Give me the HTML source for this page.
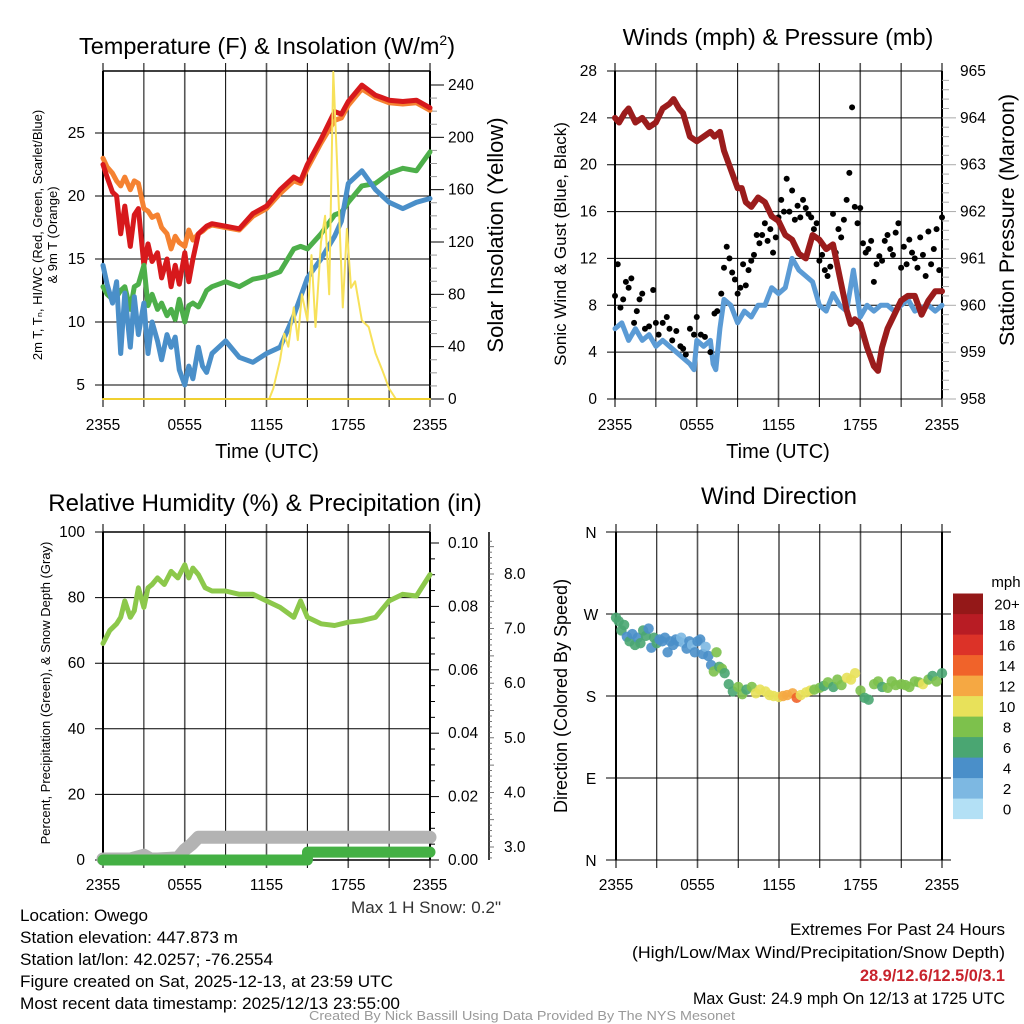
<!DOCTYPE html>
<html><head><meta charset="utf-8">
<style>
html,body{margin:0;padding:0;background:#fff;}
svg{display:block;font-family:"Liberation Sans",sans-serif;}
</style></head>
<body>
<svg id="fig" width="1024" height="1024" viewBox="0 0 1024 1024" xmlns="http://www.w3.org/2000/svg">
<g id="p1"></g>
<g id="p2"></g>
<g id="p3"></g>
<g id="p4"></g>
<g id="txt" font-size="17">
<text x="20" y="921" textLength="128" lengthAdjust="spacingAndGlyphs">Location: Owego</text>
<text x="20" y="943" textLength="218" lengthAdjust="spacingAndGlyphs">Station elevation: 447.873 m</text>
<text x="20" y="965" textLength="253" lengthAdjust="spacingAndGlyphs">Station lat/lon: 42.0257; -76.2554</text>
<text x="20" y="987" textLength="373" lengthAdjust="spacingAndGlyphs">Figure created on Sat, 2025-12-13, at 23:59 UTC</text>
<text x="20" y="1009" textLength="380" lengthAdjust="spacingAndGlyphs">Most recent data timestamp: 2025/12/13 23:55:00</text>
<text x="1005" y="935" text-anchor="end" textLength="215" lengthAdjust="spacingAndGlyphs">Extremes For Past 24 Hours</text>
<text x="1005" y="958" text-anchor="end" textLength="373" lengthAdjust="spacingAndGlyphs">(High/Low/Max Wind/Precipitation/Snow Depth)</text>
<text x="1005" y="981" text-anchor="end" fill="#c8232c" font-weight="bold" textLength="145" lengthAdjust="spacingAndGlyphs">28.9/12.6/12.5/0/3.1</text>
<text x="1005" y="1004" text-anchor="end" textLength="312" lengthAdjust="spacingAndGlyphs">Max Gust: 24.9 mph On 12/13 at 1725 UTC</text>
<text x="501" y="913" text-anchor="end" fill="#333" textLength="150" lengthAdjust="spacingAndGlyphs">Max 1 H Snow: 0.2"</text>
<text x="309" y="1020" fill="#999" font-size="13" textLength="426" lengthAdjust="spacingAndGlyphs">Created By Nick Bassill Using Data Provided By The NYS Mesonet</text>
</g>
</svg>
<script>
// ---------- data ----------
const tempHours=[0,0.3,0.7,1,1.3,1.6,2,2.3,2.6,3,3.3,3.6,4,4.3,4.7,5,5.3,5.6,6,6.3,6.6,7,7.3,7.6,8,9,10,11,12,13,14,14.5,15,16,17,17.5,18,19,20,21,22,23,24];
const tempRed=[22.5,21.5,20.3,20,17,19.2,16,18.5,19,14.5,16.2,14.8,15.5,13.5,15,12.8,14.5,13,15.5,13.2,15,17,17.3,17.6,17.8,17.6,17.4,18.6,19.2,20.5,21.5,21.2,22.5,24.5,26.7,26.5,27.5,28.8,28,27.6,27.5,27.6,27];
const tempOrange=[23,22.3,21.8,21.2,20.8,21.5,20.5,21.2,21,19,18.8,18.3,18.5,17.5,17,15.8,16.8,16.3,16,17.3,16.5,17,17.2,17.5,17.7,17.5,17.3,18.4,19,20.2,21.2,21,22.2,24.2,26,26.2,27.2,28.5,27.8,27.4,27.3,27.4,26.8];
const tempGreen=[12.8,12.2,11.8,12,12.5,12.8,11,12.8,13,14.5,11.3,12.2,11,11.5,10.5,11,10.2,11.8,10,11.3,11.5,11.2,11.8,12.5,12.8,13.2,12.8,13.4,13.6,14,15.8,16,15.8,17,18.5,18.7,19.5,20.8,21,21.8,22.2,22,23.5];
const tempBlue=[14.5,13,11.5,13.2,7.5,12.3,8,12,9,11.5,7.5,10,8.5,7,9,8,8.8,6.2,5,6.5,5.5,8,6.5,6,7.5,8.5,7.2,6.8,7.5,8,10.5,12,13.5,15,16.8,18,21,22,20.5,19.5,19,19.5,19.8];
const solarHours=[0,12.2,12.5,13,13.3,13.6,14,14.3,14.6,15,15.3,15.6,16,16.3,16.6,16.9,17.1,17.3,17.6,17.9,18.2,18.5,19,19.5,20,20.5,21,21.5,24];
const solarVals=[0,0,8,30,50,40,70,45,80,60,110,55,120,140,80,250,200,150,70,130,85,90,60,55,35,22,8,0,0];
const windHours=[0,0.5,1,1.5,2,2.5,3,3.5,4,4.5,5,5.5,5.8,6,6.5,7,7.2,7.4,7.7,8,8.5,9,9.5,10,10.5,11,11.5,12,12.5,13,13.5,14,14.5,15,15.5,16,16.5,17,17.5,18,18.5,19,19.5,20,20.5,21,21.5,22,22.5,23,23.5,24];
const windVals=[6,6.5,5,6,5,5.5,4.5,5,4.5,4,3.5,3,2.5,5,4.5,5,3,2.5,6,8.5,8,6.5,7.5,7,8,8,9.5,9,9.5,12,11,10.5,10,8,7.5,9,8,7.5,11,7,8,7.5,8,8,7.5,8,8.5,7.5,7.8,8,7.5,8,6.5];
const gustHours=[0,0.2,0.4,0.6,0.8,1,1.2,1.4,1.6,1.8,2,2.2,2.5,2.8,3,3.2,3.5,3.8,4,4.2,4.5,4.8,5,5.2,5.5,5.8,6,6.3,6.6,7,7.3,7.5,7.8,8,8.2,8.4,8.6,8.8,9,9.2,9.4,9.6,9.8,10,10.2,10.4,10.6,10.8,11,11.2,11.4,11.6,11.8,12,12.2,12.4,12.6,12.8,13,13.2,13.4,13.6,13.8,14,14.2,14.4,14.6,14.8,15,15.2,15.4,15.6,15.8,16,16.2,16.4,16.6,16.8,17,17.2,17.4,17.6,17.8,18,18.2,18.4,18.6,18.8,19,19.2,19.4,19.6,19.8,20,20.2,20.4,20.6,20.8,21,21.2,21.4,21.6,21.8,22,22.2,22.4,22.6,22.8,23,23.2,23.4,23.6,23.8,24];
const gustVals=[8.8,11.5,7.8,8.5,10,9.5,10.3,6.5,7.5,8.5,9,6,6.2,9.3,6.5,5.5,6.5,7,6,5,5.8,4.5,4.3,3.8,6,5.5,7,5.5,5.3,4,7.3,7.5,9,11.2,13,12,10.8,10.2,9,9.5,11.5,9.7,11,11.8,12.3,14,13.3,14,15,13.5,14.5,12.5,13.8,15.5,17,16,18.8,16,17.8,15.3,16.5,15.5,17,16.3,15.8,15.5,14.5,15,11.8,12.3,11,10.5,11.3,15.8,12.5,14.5,13.8,15.3,17,19.3,24.9,16.4,15,16.3,13.3,12.5,12.8,13.5,10,11.5,12.2,11.8,13.5,14,12.8,12.3,14.2,15,11.2,13,11.5,13.6,12.5,12,11.2,13.8,12.3,10.5,14.3,11.5,12.8,14.5,11,15.5,11.2];
const presHours=[0,0.3,0.7,1,1.5,2,2.5,3,3.5,4,4.3,4.7,5,5.5,6,6.5,7,7.3,7.7,8,8.5,9,9.3,9.6,10,10.5,11,11.5,12,12.5,13,13.5,14,14.5,15,15.5,16,16.5,17,17.3,17.6,18,18.5,19,19.3,19.6,20,20.5,21,21.5,22,22.5,23,23.5,24];
const presVals=[964,963.9,964.1,964.2,963.9,964,963.8,963.9,964.2,964.3,964.4,964.2,964.1,963.6,963.5,963.6,963.7,963.6,963.7,963.3,962.9,962.5,962.5,962.2,962.1,962.3,962.2,961.9,961.8,961.5,961.4,961.1,961,961.5,961.4,961.2,961.3,960.6,959.9,959.6,959.7,959.6,959.1,958.7,958.6,959.1,959.5,959.8,960.1,960.2,960.2,959.8,960.1,960.3,960.3];
const rhHours=[0,0.5,1,1.3,1.6,2,2.3,2.6,3,3.3,3.6,4,4.5,5,5.5,6,6.3,6.6,7,7.5,8,9,10,11,12,13,14,14.5,15,16,17,18,19,20,21,22,23,24];
const rhVals=[66,70,72,74,79,74,76,83,77,83,84,86,84,88,86,90,86,89,87,83,82,82,81,81,79,77,74,79,74,72,71.5,72.5,73,74,79,81,80.5,87];
const precipHours=[0,15,15.01,24];
const precipVals=[0,0,0.0025,0.0025];
const snowHours=[0,2,3,3.5,4,5.5,6,6.5,7,24];
const snowVals=[2.78,2.78,2.85,2.78,2.78,2.8,2.95,3.05,3.18,3.18];
const dirHours=[0,0.2,0.4,0.6,0.8,1,1.2,1.4,1.6,1.8,2,2.2,2.4,2.6,2.8,3,3.2,3.4,3.6,3.8,4,4.2,4.4,4.6,4.8,5,5.2,5.4,5.6,5.8,6,6.2,6.4,6.6,6.8,7,7.2,7.4,7.6,7.8,8,8.3,8.6,9,9.3,9.6,10,10.3,10.6,11,11.3,11.6,12,12.3,12.6,13,13.3,13.6,14,14.3,14.6,15,15.3,15.6,16,16.3,16.6,17,17.3,17.6,18,18.3,18.6,19,19.3,19.6,20,20.3,20.6,21,21.3,21.6,22,22.3,22.6,23,23.3,23.6,24];
const dirDeg=[266,262,252,258,245,240,248,236,244,238,252,246,254,233,244,238,242,240,244,228,240,236,242,240,244,238,232,240,236,228,240,242,226,234,224,214,207,228,212,210,205,193,185,190,182,187,190,183,187,185,181,180,179,180,181,183,178,181,184,186,187,189,191,195,190,198,192,200,198,205,186,178,176,193,196,190,189,196,192,193,192,190,196,195,193,198,202,196,205];
const dirSpeed=[6,5,6,6,4,6,4,6,4,5,5,6,4,4,5,5,4,4,4,4,4,3,4,4,2,2,4,4,2,4,4,4,4,2,4,4,7,7,6,8,6,6,6,8,8,6,8,10,10,10,10,9,10,11,12,12,13,10,10,10,8,7,6,8,6,7,8,10,10,10,7,6,6,8,8,6,8,8,8,7,8,7,8,8,10,7,6,7,6];

// ---------- helpers ----------
const NS='http://www.w3.org/2000/svg';
function mk(parent,tag,attrs,txt){const e=document.createElementNS(NS,tag);for(const k in attrs)e.setAttribute(k,attrs[k]);if(txt!==undefined)e.textContent=txt;parent.appendChild(e);return e;}
function lin(d0,d1,r0,r1){return v=>r0+(v-d0)*(r1-r0)/(d1-d0);}
function pathD(xs,ys,fx,fy){return xs.map((h,i)=>(i?'L':'M')+fx(h).toFixed(1)+','+fy(ys[i]).toFixed(1)).join('');}
const timeLabels=['2355','0555','1155','1755','2355'];
const X0=103,X1=430,X0b=615,X1b=942;

function frame(g,x0,x1,y0,y1,hGrid,fy){
  const fx=lin(0,24,x0,x1);
  for(let h=0;h<=24;h+=3){
    const l=mk(g,'line',{x1:fx(h),x2:fx(h),y1:y0-8,y2:y1+8,stroke:h%6?'#000':'#555','stroke-width':h%6?1:1.6});
    
    
  }
  hGrid.forEach(v=>{
    const l=mk(g,'line',{x1:x0-8,x2:x1,y1:fy(v),y2:fy(v),stroke:'#000','stroke-width':1});
    
    
  });
  mk(g,'line',{x1:x0,x2:x0,y1:y0,y2:y1,stroke:'#000','stroke-width':2});
  mk(g,'line',{x1:x1,x2:x1,y1:y0,y2:y1,stroke:'#000','stroke-width':2});
  return fx;
}
function xLabels(g,fx,y){
  timeLabels.forEach((t,i)=>{
    const e=mk(g,'text',{x:fx(i*6),y:y,'text-anchor':'middle','font-size':15.5},t);
    
    
  });
}
function line(g,xs,ys,fx,fy,color,w,name){
  const e=mk(g,'path',{d:pathD(xs,ys,fx,fy),fill:'none',stroke:color,'stroke-width':w,'stroke-linejoin':'round','stroke-linecap':'round'});
  
  
  return e;
}
function rotText(g,x,y,s,fs,name){
  const e=mk(g,'text',{x:0,y:0,transform:`translate(${x},${y}) rotate(-90)`,'text-anchor':'middle','font-size':fs},s);
  
  
  return e;
}

// ---------- Panel 1 ----------
(function(){
  const g=document.getElementById('p1');
  const fy=lin(5,25,385,133), fs=lin(0,240,399,85);
  const fx=frame(g,X0,X1,71,399,[5,10,15,20,25],fy);
  mk(g,'line',{x1:X0,x2:X1,y1:71,y2:71,stroke:'#000','stroke-width':1.5});
  mk(g,'line',{x1:X0,x2:X1,y1:399,y2:399,stroke:'#000','stroke-width':1});
  for(let v=0;v<=240;v+=10){mk(g,'line',{x1:X1,x2:X1+(v%40?7:14),y1:fs(v),y2:fs(v),stroke:v%40?'#999':'#000','stroke-width':1});}
  [0,40,80,120,160,200,240].forEach(v=>{const e=mk(g,'text',{x:448,y:fs(v)+5,'font-size':15.5},v);});
  [5,10,15,20,25].forEach(v=>{const e=mk(g,'text',{x:85,y:fy(v)+5,'font-size':15.5,'text-anchor':'end'},v);});
  line(g,tempHours,tempOrange,fx,fy,'#f58231',5,'orange-9m-temp-line');
  line(g,tempHours,tempRed,fx,fy,'#d7191c',5,'red-2m-temp-line');
  line(g,tempHours,tempGreen,fx,fy,'#4daf4a',5,'green-line');
  line(g,tempHours,tempBlue,fx,fy,'#4a8fc9',5,'blue-dewpoint-line');
  line(g,solarHours,solarVals,fx,fs,'#f7e15a',2,'solar-insolation-line');
  mk(g,'line',{x1:X0,x2:X1,y1:399,y2:399,stroke:'#f0d030','stroke-width':2});
  xLabels(g,fx,430);
  const t=mk(g,'text',{x:267,y:54,'text-anchor':'middle','font-size':23.5},'Temperature (F) & Insolation (W/m');
  mk(t,'tspan',{dy:-9,'font-size':14},'2');mk(t,'tspan',{dy:9},')');
  
  
  const xl=mk(g,'text',{x:267,y:458,'text-anchor':'middle','font-size':20},'Time (UTC)');
  
  
  rotText(g,42,235,'2m T, T\u2099, HI/WC (Red, Green, Scarlet/Blue)',13,'left-axis-title-1');
  rotText(g,57,235,'& 9m T (Orange)',13,'left-axis-title-2');
  rotText(g,503,235,'Solar Insolation (Yellow)',22,'right-axis-title');
})();

// ---------- Panel 2 ----------
(function(){
  const g=document.getElementById('p2');
  const fy=lin(0,28,399,71), fp=lin(958,965,399,71);
  const fx=frame(g,X0b,X1b,71,399,[0,4,8,12,16,20,24,28],fy);
  for(let v=958;v<=965;v+=0.2){mk(g,'line',{x1:X1b,x2:X1b+(Math.abs(v-Math.round(v))<0.01?14:7),y1:fp(v),y2:fp(v),stroke:'#aaa','stroke-width':1});}
  [958,959,960,961,962,963,964,965].forEach(v=>{const e=mk(g,'text',{x:960,y:fp(v)+5,'font-size':15.5},v);});
  [0,4,8,12,16,20,24,28].forEach(v=>{const e=mk(g,'text',{x:597,y:fy(v)+5,'font-size':15.5,'text-anchor':'end'},v);});
  line(g,windHours,windVals,fx,fy,'#5b9bd5',5,'sonic-wind-line');
  gustHours.forEach((h,i)=>{
    const c=mk(g,'circle',{cx:fx(h),cy:fy(gustVals[i]),r:3,fill:'#000'});
    
    
  });
  line(g,presHours,presVals,fx,fp,'#9b1c1c',6,'pressure-line');
  xLabels(g,fx,430);
  const t=mk(g,'text',{x:778,y:45,'text-anchor':'middle','font-size':23.5},'Winds (mph) & Pressure (mb)');
  
  
  const xl=mk(g,'text',{x:778,y:458,'text-anchor':'middle','font-size':20},'Time (UTC)');
  
  
  rotText(g,566,244,'Sonic Wind & Gust (Blue, Black)',17,'left-axis-title');
  rotText(g,1014,220,'Station Pressure (Maroon)',21.5,'right-axis-title');
})();

// ---------- Panel 3 ----------
(function(){
  const g=document.getElementById('p3');
  const fy=lin(0,100,860,532), fp=lin(0,0.1,860,543), fsn=lin(3,8,847,574);
  const fx=frame(g,X0,X1,532,860,[0,20,40,60,80,100],fy);
  for(let v=0;v<=0.1001;v+=0.005){mk(g,'line',{x1:X1,x2:X1+(Math.round(v*1000)%20?5:9),y1:fp(v),y2:fp(v),stroke:'#000','stroke-width':1});}
  ['0.00','0.02','0.04','0.06','0.08','0.10'].forEach(s=>{const e=mk(g,'text',{x:448,y:fp(+s)+5,'font-size':15.5},s);});
  mk(g,'line',{x1:489,x2:489,y1:532,y2:860,stroke:'#000','stroke-width':1.5});
  for(let v=2.8;v<=8.6;v+=0.1){mk(g,'line',{x1:489,x2:489+(Math.abs(v*2-Math.round(v*2))<0.01?5:3),y1:fsn(v),y2:fsn(v),stroke:'#555','stroke-width':0.8});}
  ['3.0','4.0','5.0','6.0','7.0','8.0'].forEach(s=>{const e=mk(g,'text',{x:504,y:fsn(+s)+5,'font-size':15.5},s);});
  [0,20,40,60,80,100].forEach(v=>{const e=mk(g,'text',{x:85,y:fy(v)+5,'font-size':15.5,'text-anchor':'end'},v);});
  mk(g,'line',{x1:X0,x2:X1,y1:532,y2:532,stroke:'#000','stroke-width':1.5});
  mk(g,'line',{x1:X0,x2:X1,y1:860,y2:860,stroke:'#000','stroke-width':1.5});
  line(g,snowHours,snowVals,fx,fsn,'#b3b3b3',13,'snow-depth-line');
  line(g,precipHours,precipVals,fx,fp,'#44b044',11,'precipitation-line');
  line(g,rhHours,rhVals,fx,fy,'#8cc84b',5,'relative-humidity-line');
  xLabels(g,fx,890);
  const t=mk(g,'text',{x:265,y:511,'text-anchor':'middle','font-size':24},'Relative Humidity (%) & Precipitation (in)');
  
  
  rotText(g,50,693,'Percent, Precipitation (Green), & Snow Depth (Gray)',13,'left-axis-title');
})();

// ---------- Panel 4 ----------
(function(){
  const g=document.getElementById('p4');
  const fy=lin(0,360,860,532);
  const fx=frame(g,616,942,532,860,[0,90,180,270,360],fy);
  [['N',0],['E',90],['S',180],['W',270],['N',360]].forEach(([s,v])=>{const e=mk(g,'text',{x:591,y:fy(v)+6,'font-size':15.5,'text-anchor':'middle'},s);});
  for(const el of g.querySelectorAll('line')){if(el.getAttribute('y1')===el.getAttribute('y2')){el.setAttribute('x1',606);el.setAttribute('x2',951);}}
  const colors=['#b3e0f5','#7db8e2','#4a8fc9','#4aa672','#7dc14c','#e8e15a','#f5a843','#f0632a','#dc3228','#b81c24','#941818'];
  function col(s){return colors[Math.min(10,Math.round(s/2))];}
  dirHours.forEach((h,i)=>{
    const c=mk(g,'circle',{cx:fx(h),cy:fy(dirDeg[i]),r:5.2,fill:col(dirSpeed[i]),'fill-opacity':0.9});
    
    
  });
  const labs=['0','2','4','6','8','10','12','14','16','18','20+'];
  colors.forEach((c,i)=>{
    const y=819-(i+1)*20.5;
    const r=mk(g,'rect',{x:953,y:y,width:30,height:20.6,fill:c});
    
    
    const t=mk(g,'text',{x:1007,y:y+16,'font-size':15,'text-anchor':'middle'},labs[i]);
    
    
  });
  const u=mk(g,'text',{x:1006,y:587,'font-size':15,'text-anchor':'middle'},'mph');
  
  
  xLabels(g,fx,890);
  const t=mk(g,'text',{x:779,y:504,'text-anchor':'middle','font-size':24},'Wind Direction');
  
  
  rotText(g,567,696,'Direction (Colored By Speed)',18,'left-axis-title');
})();
</script>
</body></html>
